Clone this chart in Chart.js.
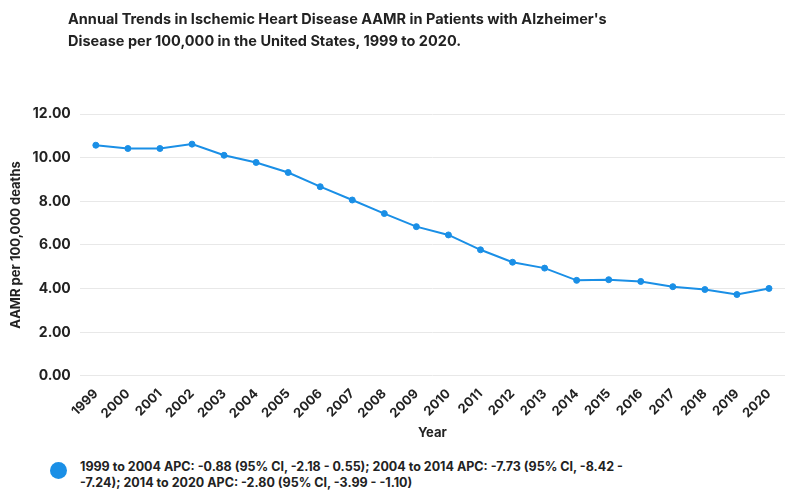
<!DOCTYPE html>
<html>
<head>
<meta charset="utf-8">
<script src="https://cdn.jsdelivr.net/npm/chart.js@4.4.1/dist/chart.umd.min.js"></script>
<style>
  body { margin: 0; background: #fff; font-family: Inter, "Noto Sans", sans-serif; }
  #wrap { position: relative; width: 790px; height: 502px; }
  #title { position: absolute; left: 68px; top: 8px; font-size: 14.5px; font-weight: 700; color: #222; line-height: 22px; }
  #chart-box { position: absolute; left: 0; top: 0; width: 790px; height: 445px; }
  #legend { position: absolute; left: 50px; top: 459px; display: flex; align-items: flex-start; }
  #legend .dot { width: 17px; height: 17px; border-radius: 50%; background: #1a8fe6; margin-top: 3px; margin-right: 13px; flex: none; }
  #legend .txt { font-size: 12.5px; font-weight: 700; color: #222; line-height: 16px; width: 556px; }
</style>
</head>
<body>
<div id="wrap">
  <div id="chart-box"><canvas id="chart"></canvas></div>
  <div id="title"></div>
  <div id="legend"></div>
</div>
<script>
// Dados
const years = ['1999','2000','2001','2002','2003','2004','2005','2006','2007','2008','2009',
  '2010','2011','2012','2013','2014','2015','2016','2017','2018','2019','2020'];
const aamr = [10.57, 10.42, 10.42, 10.62, 10.11, 9.78, 9.32, 8.67, 8.06, 7.44, 6.84,
  6.46, 5.78, 5.21, 4.94, 4.38, 4.41, 4.33, 4.09, 3.96, 3.73, 4.01];
const seriesLabel = '1999 to 2004 APC: -0.88 (95% CI, -2.18 - 0.55); 2004 to 2014 APC: -7.73 (95% CI, -8.42 - -7.24); 2014 to 2020 APC: -2.80 (95% CI, -3.99 - -1.10)';
const titleLines = [
  "Annual Trends in Ischemic Heart Disease AAMR in Patients with Alzheimer's",
  'Disease per 100,000 in the United States, 1999 to 2020.'
];

const BLUE = '#1a8fe6';
const TEXT = '#222222';
const FONT = 'Inter, "Noto Sans", sans-serif';

// Título e legenda em HTML (o texto quebra em linhas)
document.getElementById('title').innerHTML = titleLines.join('<br>');
document.getElementById('legend').innerHTML =
  `<span class="dot"></span><span class="txt">${seriesLabel}</span>`;

new Chart(document.getElementById('chart'), {
  type: 'line',
  data: {
    labels: years,
    datasets: [{
      label: seriesLabel,
      data: aamr,
      borderColor: BLUE,
      backgroundColor: BLUE,
      borderWidth: 2,
      pointRadius: 3,
      pointBorderWidth: 1,
      tension: 0
    }]
  },
  options: {
    responsive: true,
    maintainAspectRatio: false,
    animation: false,
    layout: { padding: { left: 8, right: 5, top: 114, bottom: 0 } },
    plugins: {
      legend: { display: false },
      tooltip: { enabled: false }
    },
    scales: {
      x: {
        offset: true,
        grid: { display: false },
        border: { display: false },
        ticks: {
          color: TEXT,
          font: { family: FONT, size: 13, weight: '700' },
          minRotation: 45,
          maxRotation: 45,
          autoSkip: false,
          padding: 2
        },
        title: {
          display: true,
          text: 'Year',
          color: TEXT,
          font: { family: FONT, size: 13, weight: '700' },
          padding: { top: 2 }
        }
      },
      y: {
        min: 0,
        max: 12,
        ticks: {
          stepSize: 2,
          color: TEXT,
          font: { family: FONT, size: 14, weight: '700' },
          padding: 9,
          callback: v => v.toFixed(2)
        },
        grid: { color: '#e8e8e8', lineWidth: 1, drawTicks: false },
        border: { display: false },
        title: {
          display: true,
          text: 'AAMR per 100,000 deaths',
          color: TEXT,
          font: { family: FONT, size: 13, weight: '700' },
          padding: { top: 0, bottom: 0 }
        }
      }
    }
  }
});
</script>
</body>
</html>
